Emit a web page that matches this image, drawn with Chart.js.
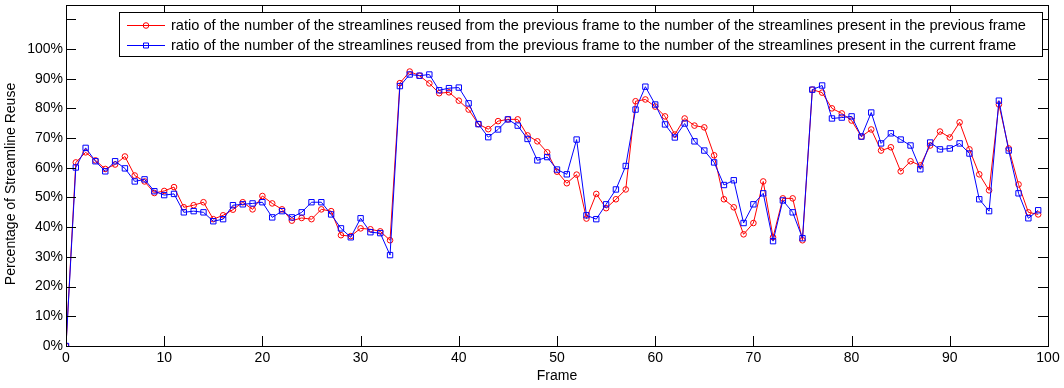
<!DOCTYPE html>
<html>
<head>
<meta charset="utf-8">
<script src="https://cdn.jsdelivr.net/npm/chart.js@4/dist/chart.umd.min.js"></script>
<style>
  html, body { margin: 0; padding: 0; background: #fff; }
  #wrap { width: 1064px; height: 388px; }
</style>
</head>
<body>
<div id="wrap"><canvas id="myChart"></canvas></div>
<script>
// frame numbers
const frames = [
   0,  1,  2,  3,  4,  5,  6,  7,  8,  9,
  10, 11, 12, 13, 14, 15, 16, 17, 18, 19,
  20, 21, 22, 23, 24, 25, 26, 27, 28, 29,
  30, 31, 32, 33, 34, 35, 36, 37, 38, 39,
  40, 41, 42, 43, 44, 45, 46, 47, 48, 49,
  50, 51, 52, 53, 54, 55, 56, 57, 58, 59,
  60, 61, 62, 63, 64, 65, 66, 67, 68, 69,
  70, 71, 72, 73, 74, 75, 76, 77, 78, 79,
  80, 81, 82, 83, 84, 85, 86, 87, 88, 89,
  90, 91, 92, 93, 94, 95, 96, 97, 98, 99
];

// reuse vs previous frame (red, circles), percent
const reusePrevious = [
   0.0, 61.8, 65.2, 62.5, 59.6, 61.1, 63.8, 57.4, 55.4, 51.5,
  52.2, 53.5, 46.7, 47.4, 48.4, 42.7, 44.0, 45.9, 48.4, 46.0,
  50.5, 48.0, 46.0, 42.2, 43.1, 42.7, 46.0, 45.4, 37.3, 37.0,
  39.6, 39.3, 38.6, 35.6, 88.5, 92.4, 91.0, 88.4, 85.1, 85.4,
  82.6, 79.6, 74.7, 73.0, 75.7, 76.3, 76.3, 70.9, 68.9, 65.2,
  58.7, 54.8, 57.7, 42.9, 51.2, 46.4, 49.4, 52.7, 82.4, 83.0,
  80.6, 77.3, 71.2, 76.6, 74.2, 73.6, 64.2, 49.4, 46.7, 37.6,
  41.4, 55.4, 36.6, 49.7, 49.7, 35.6, 86.3, 85.3, 80.0, 78.3,
  75.9, 70.5, 72.9, 65.8, 66.9, 58.8, 62.2, 60.8, 67.5, 72.2,
  70.2, 75.3, 66.2, 57.8, 52.4, 81.3, 66.5, 54.4, 45.0, 44.3
];

// reuse vs current frame (blue, squares), percent
const reuseCurrent = [
   0.0, 60.1, 66.7, 62.2, 58.8, 62.2, 59.8, 55.4, 56.1, 52.1,
  50.8, 51.2, 45.0, 45.4, 45.0, 42.0, 42.7, 47.4, 47.7, 48.0,
  48.4, 43.3, 45.4, 43.3, 45.0, 48.4, 48.4, 44.3, 39.6, 36.6,
  43.0, 38.3, 38.0, 30.6, 87.5, 91.4, 91.0, 91.4, 86.1, 86.8,
  87.0, 81.7, 74.7, 70.3, 72.9, 76.3, 74.2, 69.7, 62.5, 63.6,
  59.4, 57.8, 69.5, 44.0, 42.7, 47.7, 52.7, 60.6, 79.6, 87.3,
  81.3, 74.6, 70.2, 74.9, 68.9, 65.8, 61.8, 54.2, 55.8, 41.4,
  47.7, 51.4, 35.3, 49.0, 45.0, 36.3, 86.3, 87.7, 76.6, 76.9,
  77.3, 70.5, 78.6, 68.2, 71.6, 69.5, 67.5, 59.5, 68.5, 66.2,
  66.5, 68.2, 64.8, 49.4, 45.4, 82.6, 65.8, 51.4, 43.0, 45.7
];

const seriesLabels = [
  'ratio of the number of the streamlines reused from the previous frame to the number of the streamlines present in the previous frame',
  'ratio of the number of the streamlines reused from the previous frame to the number of the streamlines present in the current frame'
];

const xTicks = [0, 10, 20, 30, 40, 50, 60, 70, 80, 90, 100];
const yTicks = [0, 10, 20, 30, 40, 50, 60, 70, 80, 90, 100, 110];
const yLabelMax = 100; // 110 tick has no label
const yTitle = 'Percentage of Streamline Reuse';

const fontFamily = '"Liberation Sans", Arial, sans-serif';

// MATLAB style box with inward ticks on all four sides
const boxPlugin = {
    id: 'box',
    afterDatasetsDraw(chart) {
        const { ctx, chartArea: a, scales } = chart;
        ctx.save();
        ctx.strokeStyle = '#000';
        ctx.lineWidth = 1;
        ctx.strokeRect(a.left + 0.5, a.top + 0.5, a.right - a.left, a.bottom - a.top);
        ctx.beginPath();
        xTicks.forEach(v => {
            const x = Math.round(scales.x.getPixelForValue(v)) + 0.5;
            ctx.moveTo(x, a.bottom);
            ctx.lineTo(x, a.bottom - 10);
            ctx.moveTo(x, a.top);
            ctx.lineTo(x, a.top + 10);
        });
        yTicks.forEach(v => {
            const y = Math.round(scales.y.getPixelForValue(v)) + 0.5;
            ctx.moveTo(a.left, y);
            ctx.lineTo(a.left + 10, y);
            ctx.moveTo(a.right, y);
            ctx.lineTo(a.right - 10, y);
        });
        ctx.stroke();

        // y axis title (sits a bit below the axis centre in the original)
        ctx.fillStyle = '#000';
        ctx.font = '14px ' + fontFamily;
        ctx.textAlign = 'center';
        ctx.textBaseline = 'middle';
        ctx.translate(11, (a.top + a.bottom) / 2 + 8.5);
        ctx.rotate(-Math.PI / 2);
        ctx.fillText(yTitle, 0, 0);
        ctx.restore();
    }
};

// legend box drawn inside the plot, line + marker samples
const legendPlugin = {
    id: 'boxLegend',
    afterDraw(chart) {
        const { ctx, chartArea: a } = chart;
        const left = a.left + 53, top = a.top + 7;
        const right = a.right - 6, h = 44;
        ctx.save();
        ctx.fillStyle = '#fff';
        ctx.fillRect(left, top, right - left, h);
        ctx.strokeStyle = '#000';
        ctx.lineWidth = 1;
        ctx.strokeRect(left + 0.5, top + 0.5, right - left, h);
        ctx.font = '14.6px ' + fontFamily;
        ctx.textBaseline = 'middle';
        chart.data.datasets.forEach((ds, i) => {
            const y = top + 13.5 + i * 20;
            ctx.strokeStyle = ds.borderColor;
            ctx.beginPath();
            ctx.moveTo(left + 8, y);
            ctx.lineTo(left + 46, y);
            ctx.stroke();
            ctx.beginPath();
            if (ds.pointStyle === 'rect') {
                ctx.rect(left + 24.5, y - 2.5, 5, 5);
            } else {
                ctx.arc(left + 27, y, 2.8, 0, Math.PI * 2);
            }
            ctx.stroke();
            ctx.fillStyle = '#000';
            ctx.fillText(ds.label, left + 52, y + 0.5);
        });
        ctx.restore();
    }
};

const ctx = document.getElementById('myChart');

const myChart = new Chart(ctx, {
    type: 'line',
    data: {
        datasets: [
            {
                label: seriesLabels[0],
                data: frames.map((f, i) => ({ x: f, y: reusePrevious[i] })),
                borderColor: '#ff0000',
                backgroundColor: 'rgba(0,0,0,0)',
                borderWidth: 1,
                pointStyle: 'circle',
                pointRadius: 2.8,
                pointBorderWidth: 1,
                tension: 0,
                order: 1
            },
            {
                label: seriesLabels[1],
                data: frames.map((f, i) => ({ x: f, y: reuseCurrent[i] })),
                borderColor: '#0000ff',
                backgroundColor: 'rgba(0,0,0,0)',
                borderWidth: 1,
                pointStyle: 'rect',
                pointRadius: 3.8,
                pointBorderWidth: 1,
                tension: 0,
                order: 0
            }
        ]
    },
    options: {
        responsive: true,
        maintainAspectRatio: false,
        animation: false,
        devicePixelRatio: 1,
        layout: {
            padding: { top: 4, right: 16, left: 0, bottom: 0 }
        },
        scales: {
            x: {
                type: 'linear',
                min: 0,
                max: 100,
                afterBuildTicks: scale => { scale.ticks = xTicks.map(v => ({ value: v })); },
                afterFit: scale => {
                    scale.height = 42;
                    scale.paddingLeft = 0;
                    scale.paddingRight = 0;
                },
                grid: { display: false, drawTicks: false },
                border: { display: false },
                ticks: {
                    color: '#000',
                    padding: 4,
                    maxRotation: 0,
                    font: { family: fontFamily, size: 14 }
                },
                title: {
                    display: true,
                    text: 'Frame',
                    color: '#000',
                    padding: { top: 0, bottom: 3 },
                    font: { family: fontFamily, size: 14 }
                }
            },
            y: {
                type: 'linear',
                min: 0,
                max: 114.8,
                afterBuildTicks: scale => { scale.ticks = yTicks.map(v => ({ value: v })); },
                afterFit: scale => {
                    scale.width = 66;
                    scale.paddingTop = 0;
                    scale.paddingBottom = 0;
                },
                grid: { display: false, drawTicks: false },
                border: { display: false },
                ticks: {
                    color: '#000',
                    padding: 3,
                    font: { family: fontFamily, size: 14 },
                    callback: value => value <= yLabelMax ? value + '%' : ''
                },
                title: { display: false }
            }
        },
        plugins: {
            legend: { display: false },
            tooltip: { enabled: false }
        }
    },
    plugins: [boxPlugin, legendPlugin]
});
</script>
</body>
</html>
